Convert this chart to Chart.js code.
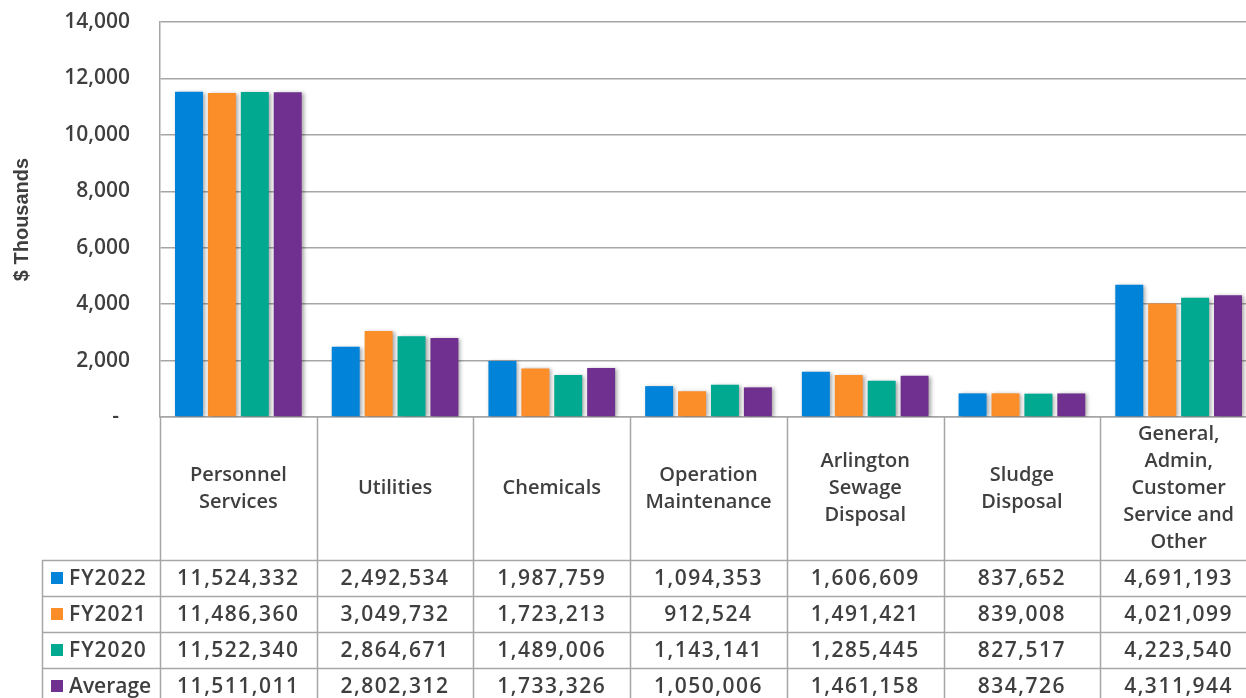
<!DOCTYPE html>
<html lang="en">
<head>
  <meta charset="UTF-8">
  <title>Operating Costs</title>
  <script src="https://cdn.jsdelivr.net/npm/chart.js"></script>
  <style>
    html, body {
      margin: 0;
      padding: 0;
      background: #fff;
      overflow: hidden;
    }
    .wrap {
      width: 1246px;
      height: 698px;
      overflow: hidden;
    }
  </style>
</head>
<body>
  <div class="wrap">
    <canvas id="costChart" width="1257" height="698"></canvas>
  </div>

  <script>
    // categories (header lines) and series values in dollars
    const categories = [
      ['Personnel', 'Services'],
      ['Utilities'],
      ['Chemicals'],
      ['Operation', 'Maintenance'],
      ['Arlington', 'Sewage', 'Disposal'],
      ['Sludge', 'Disposal'],
      ['General,', 'Admin,', 'Customer', 'Service and', 'Other']
    ];
    const seriesNames = ['FY2022', 'FY2021', 'FY2020', 'Average'];
    const fy2022 = [11524332, 2492534, 1987759, 1094353, 1606609, 837652, 4691193];
    const fy2021 = [11486360, 3049732, 1723213, 912524, 1491421, 839008, 4021099];
    const fy2020 = [11522340, 2864671, 1489006, 1143141, 1285445, 827517, 4223540];
    const average = [11511011, 2802312, 1733326, 1050006, 1461158, 834726, 4311944];
    const yTicks = [0, 2000, 4000, 6000, 8000, 10000, 12000, 14000];

    const colors = ['#0083d9', '#fc8e2a', '#00a990', '#70308f'];
    const seriesValues = [fy2022, fy2021, fy2020, average];
    const textColor = '#3f3f3f';
    const lineColor = '#a6a6a6';
    const fontFamily = "'Open Sans', 'Liberation Sans', sans-serif";

    const fmt = n => n.toLocaleString('en-US');

    const barShadow = {
      id: 'barShadow',
      beforeDatasetsDraw(chart) {
        const ctx = chart.ctx;
        ctx.save();
        ctx.shadowColor = 'rgba(0,0,0,0.35)';
        ctx.shadowBlur = 4;
        ctx.shadowOffsetX = 2;
        ctx.shadowOffsetY = 1;
      },
      afterDatasetsDraw(chart) {
        chart.ctx.restore();
      }
    };

    // data table drawn under the plot, columns follow the x scale
    const dataTable = {
      id: 'dataTable',
      afterDraw(chart) {
        const ctx = chart.ctx;
        const area = chart.chartArea;
        const xs = chart.scales.x;
        const colW = (area.right - area.left) / categories.length;
        const top = area.bottom;
        const headerBottom = top + 143;
        const rowH = 36;
        const labelLeft = 42;
        const H = chart.height;

        ctx.save();
        ctx.strokeStyle = lineColor;
        ctx.lineWidth = 1.5;

        // vertical lines
        for (let i = 0; i <= categories.length; i++) {
          const x = Math.round(area.left + i * colW) + 0.5;
          ctx.beginPath();
          ctx.moveTo(x, top);
          ctx.lineTo(x, H);
          ctx.stroke();
        }
        ctx.beginPath();
        ctx.moveTo(labelLeft + 0.5, headerBottom);
        ctx.lineTo(labelLeft + 0.5, H);
        ctx.stroke();

        // horizontal lines
        for (let r = 0; r <= seriesNames.length; r++) {
          const y = headerBottom + r * rowH + 0.5;
          ctx.beginPath();
          ctx.moveTo(labelLeft, y);
          ctx.lineTo(area.right, y);
          ctx.stroke();
        }

        ctx.fillStyle = textColor;
        ctx.textBaseline = 'middle';

        // header labels
        ctx.font = `600 20px ${fontFamily}`;
        ctx.textAlign = 'center';
        const headMid = (top + headerBottom) / 2;
        categories.forEach((lines, i) => {
          const cx = xs.getPixelForValue(i);
          const lh = 27;
          const y0 = headMid - (lines.length - 1) * lh / 2;
          lines.forEach((t, k) => ctx.fillText(t, cx, y0 + k * lh));
        });

        // rows
        seriesNames.forEach((name, r) => {
          const cy = headerBottom + r * rowH + rowH / 2 + 1;
          ctx.fillStyle = colors[r];
          ctx.fillRect(labelLeft + 9, cy - 7, 12, 12);
          ctx.fillStyle = textColor;
          ctx.textAlign = 'left';
          ctx.font = `600 21px ${fontFamily}`;
          ctx.letterSpacing = name.startsWith('FY') ? '1px' : '0px';
          ctx.fillText(name, labelLeft + 27, cy);
          ctx.textAlign = 'center';
          ctx.letterSpacing = '1.5px';
          seriesValues[r].forEach((v, i) => {
            ctx.fillText(fmt(v), xs.getPixelForValue(i), cy);
          });
          ctx.letterSpacing = '0px';
        });

        ctx.restore();
      }
    };

    const datasets = seriesNames.map((name, i) => ({
      label: name,
      data: seriesValues[i].map(v => v / 1000),
      backgroundColor: colors[i],
      borderWidth: 0,
      categoryPercentage: 0.84,
      barPercentage: 0.85
    }));

    new Chart(document.getElementById('costChart').getContext('2d'), {
      type: 'bar',
      data: {
        labels: categories.map(c => c.join(' ')),
        datasets: datasets
      },
      options: {
        responsive: false,
        animation: false,
        devicePixelRatio: 1,
        layout: { padding: { top: 0, right: 0, left: 0, bottom: 0 } },
        plugins: {
          legend: { display: false },
          tooltip: { enabled: false }
        },
        scales: {
          x: {
            ticks: { display: false },
            grid: { display: false },
            border: { display: true, color: lineColor, width: 1.5 },
            afterFit(scale) { scale.height = 281; }
          },
          y: {
            min: 0,
            max: 14000,
            afterBuildTicks(scale) { scale.ticks = yTicks.map(v => ({ value: v })); },
            ticks: {
              padding: 30,
              color: textColor,
              font: { family: fontFamily, size: 21, weight: '600' },
              callback: v => v === 0 ? '-  ' : fmt(v)
            },
            grid: { color: lineColor, lineWidth: 1.5, drawTicks: false },
            border: { display: true, color: lineColor, width: 1.5 },
            title: {
              display: true,
              text: '$ Thousands',
              color: textColor,
              font: { family: "'Liberation Sans', Arial, sans-serif", size: 20, weight: 'bold' },
              padding: { top: 10, bottom: 0 }
            },
            afterFit(scale) {
              scale.width = 160;
              scale.paddingTop = 22;
              scale.paddingBottom = 0;
            }
          }
        }
      },
      plugins: [barShadow, dataTable]
    });
  </script>
</body>
</html>
